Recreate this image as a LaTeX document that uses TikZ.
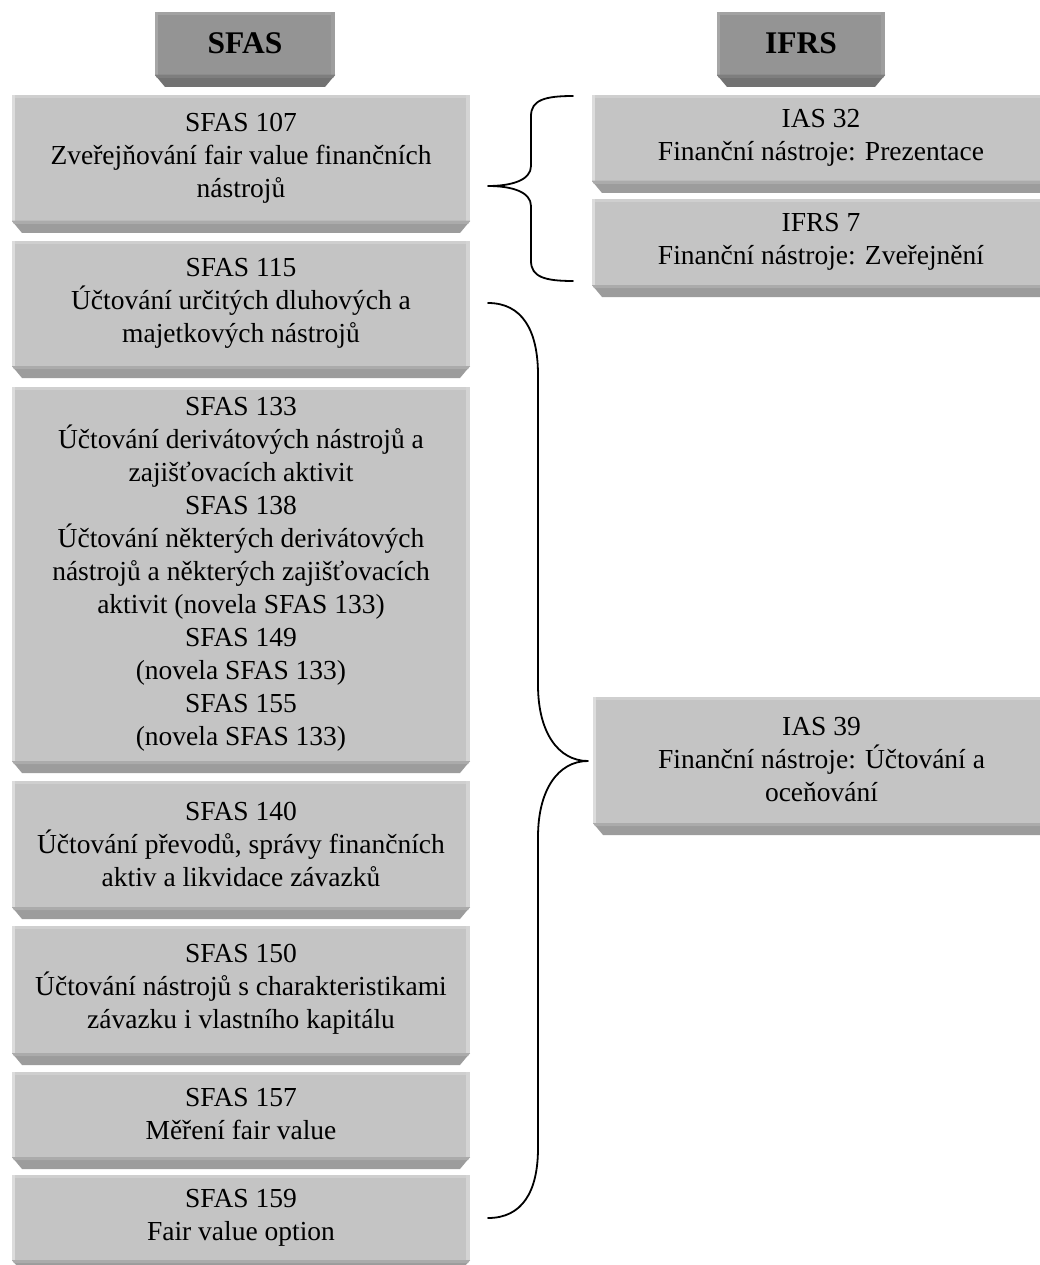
\documentclass[tikz,border=0pt]{standalone}
\usepackage{fontspec}
\setmainfont{Liberation Serif}
\definecolor{bface}{HTML}{C4C4C4}
\definecolor{bleft}{HTML}{DCDCDC}
\definecolor{btop}{HTML}{CFCFCF}
\definecolor{bright}{HTML}{D4D4D4}
\definecolor{bbev}{HTML}{9C9C9C}
\definecolor{bbevtop}{HTML}{ABABAB}
\definecolor{hface}{HTML}{949494}
\definecolor{hleft}{HTML}{A6A6A6}
\definecolor{htop}{HTML}{A2A2A2}
\definecolor{hright}{HTML}{9E9E9E}
\definecolor{hbev}{HTML}{727272}
\definecolor{hbevtop}{HTML}{7E7E7E}
\tikzset{
  boxtext/.style={align=center, inner sep=0pt, text=black,
    font=\fontsize{27.5}{33}\selectfont},
  headtext/.style={align=center, inner sep=0pt, text=black,
    font=\bfseries\fontsize{31.5}{36}\selectfont},
  bracepath/.style={draw=black, line width=1.8pt, line cap=round, line join=round}
}
% #1 name, #2 x-left, #3 y-top, #4 x-right, #5 y-face-bottom, #6 colour prefix, #7 text style, #8 text
\newcommand\bevelbox[8]{%
  \fill[#6face] (#2,#3) rectangle (#4,#5);
  \fill[#6top] (#2,#3) rectangle (#4,{#3+3});
  \fill[#6left] (#2,#3) rectangle ({#2+3},#5);
  \fill[#6right] ({#4-4},#3) rectangle (#4,#5);
  \fill[#6bev] (#2,#5) -- (#4,#5) -- ({#4-10},{#5+12}) -- ({#2+10},{#5+12}) -- cycle;
  \fill[#6bevtop] (#2,#5) -- (#4,#5) -- ({#4-2},{#5+3}) -- ({#2+2},{#5+3}) -- cycle;
  \node[#7] (#1) at ({(#2+#4)/2},{(#3+#5)/2}) {#8};
}
\begin{document}
\begin{tikzpicture}[x=1pt,y=-1pt]
\useasboundingbox (0,0) rectangle (1040,1265);
\fill[white] (0,0) rectangle (1040,1265);
% headers
\bevelbox{hsfas}{155}{12}{335}{75}{h}{headtext}{SFAS}
\bevelbox{hifrs}{717}{12}{885}{75}{h}{headtext}{IFRS}
% left column
\bevelbox{s107}{12}{95}{470}{221}{b}{boxtext}{SFAS 107\\Zveřejňování fair value finančních\\nástrojů}
\bevelbox{s115}{12}{241}{470}{366}{b}{boxtext}{SFAS 115\\Účtování určitých dluhových a\\majetkových nástrojů}
\bevelbox{s133}{12}{387}{470}{761}{b}{boxtext}{SFAS 133\\Účtování derivátových nástrojů a\\zajišťovacích aktivit\\SFAS 138\\Účtování některých derivátových\\nástrojů a některých zajišťovacích\\aktivit (novela SFAS 133)\\SFAS 149\\(novela SFAS 133)\\SFAS 155\\(novela SFAS 133)}
\bevelbox{s140}{12}{781}{470}{907}{b}{boxtext}{SFAS 140\\Účtování převodů, správy finančních\\aktiv a likvidace závazků}
\bevelbox{s150}{12}{926}{470}{1053}{b}{boxtext}{SFAS 150\\Účtování nástrojů s charakteristikami\\závazku i vlastního kapitálu}
\bevelbox{s157}{12}{1072}{470}{1157}{b}{boxtext}{SFAS 157\\Měření fair value}
\bevelbox{s159}{12}{1175}{470}{1260}{b}{boxtext}{SFAS 159\\Fair value option}
% right column
\bevelbox{i32}{592}{95}{1050}{181}{b}{boxtext}{IAS 32\\Finanční nástroje: Prezentace}
\bevelbox{i7}{592}{199}{1050}{285}{b}{boxtext}{IFRS 7\\Finanční nástroje: Zveřejnění}
\bevelbox{i39}{593}{697}{1050}{823}{b}{boxtext}{IAS 39\\Finanční nástroje: Účtování a\\oceňování}
% brace coordinates
\coordinate (ua) at (573,96);
\coordinate (ut) at (488,186);
\coordinate (ub) at (573,281);
\coordinate (la) at (488,303);
\coordinate (lt) at (588,761);
\coordinate (lb) at (488,1218);
% upper brace (SFAS 107 -> IAS 32, IFRS 7)
\draw[bracepath] (ua) .. controls (545,96) and (531,100) .. (531,116)
  -- (531,166) .. controls (531,180) and (512,186) .. (ut)
  .. controls (512,186) and (531,192) .. (531,206)
  -- (531,261) .. controls (531,277) and (545,281) .. (ub);
% lower brace (SFAS 115 ... SFAS 159 -> IAS 39)
\draw[bracepath] (la) .. controls (522,303) and (538,330) .. (538,375)
  -- (538,685) .. controls (538,732) and (558,761) .. (lt)
  .. controls (558,761) and (538,790) .. (538,837)
  -- (538,1148) .. controls (538,1192) and (522,1218) .. (lb);
\end{tikzpicture}
\end{document}
